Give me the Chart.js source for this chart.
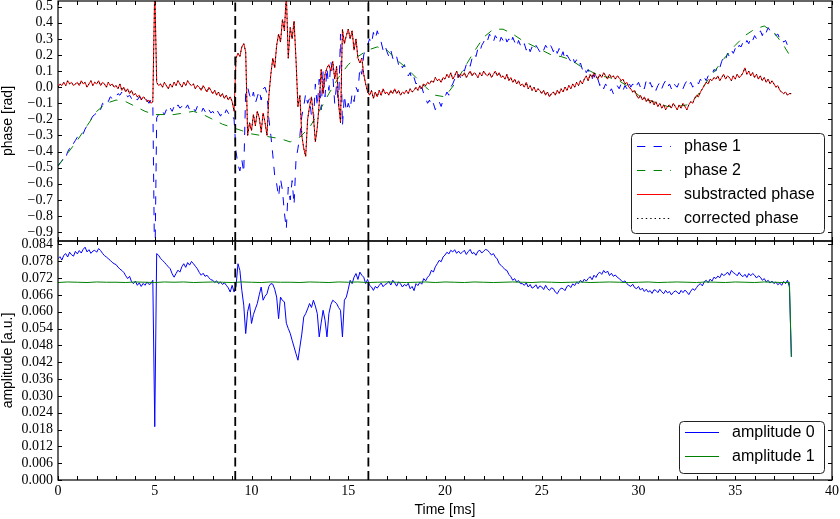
<!DOCTYPE html>
<html lang="en">
<head>
<meta charset="UTF-8">
<title>phase / amplitude</title>
<script src="https://cdn.jsdelivr.net/npm/chart.js@4"></script>
<style>
  body { margin: 0; background: #fff; }
  #wrap { position: relative; width: 840px; height: 519px; }
  #wrap canvas { position: absolute; left: 0; top: 0; }
</style>
</head>
<body>
<div id="wrap">
  <canvas id="ampChart" width="840" height="519"></canvas>
  <canvas id="phaseChart" width="840" height="242"></canvas>
</div>
<script>
// sampling of the fast traces is 0.1 ms, slow traces 0.5 ms
const fastStep = 0.1;

const phase1 = [
  -0.49,-0.47,-0.46,-0.43,-0.44,-0.40,-0.38,-0.39,-0.35,-0.33,
  -0.31,-0.30,-0.28,-0.29,-0.26,-0.24,-0.23,-0.20,-0.18,-0.17,
  -0.16,-0.13,-0.14,-0.10,-0.11,-0.08,-0.09,-0.06,-0.07,-0.05,
  -0.06,-0.04,-0.05,-0.03,-0.05,-0.04,-0.06,-0.05,-0.07,-0.05,
  -0.06,-0.08,-0.06,-0.07,-0.09,-0.07,-0.08,-0.10,-0.08,-0.09,
  -1.20,-0.19,-0.17,-0.18,-0.15,-0.17,-0.14,-0.16,-0.13,-0.15,
  -0.12,-0.14,-0.11,-0.13,-0.12,-0.10,-0.13,-0.11,-0.14,-0.12,
  -0.13,-0.15,-0.12,-0.14,-0.16,-0.13,-0.15,-0.17,-0.14,-0.16,
  -0.15,-0.17,-0.14,-0.16,-0.18,-0.15,-0.17,-0.14,-0.16,-0.18,
  -0.17,-0.20,-0.40,-0.48,-0.52,-0.45,-0.53,-0.02,0.00,-0.05,
  -0.08,-0.03,-0.10,-0.06,-0.02,-0.08,-0.01,0.00,-0.04,-0.20,
  -0.30,-0.42,-0.55,-0.60,-0.68,-0.57,-0.64,-0.78,-0.88,-0.62,
  -0.70,-0.58,-0.73,-0.45,-0.38,-0.30,-0.18,-0.12,-0.04,-0.10,
  -0.07,-0.18,-0.22,0.02,-0.12,0.05,-0.14,0.10,-0.06,0.12,
  -0.02,0.16,0.08,-0.10,0.02,-0.12,0.33,-0.24,-0.05,-0.15,
  -0.10,-0.14,-0.04,-0.09,0.00,-0.03,0.12,0.08,0.20,0.24,
  0.26,0.30,0.27,0.34,0.30,0.35,0.31,0.28,0.23,0.26,
  0.22,0.19,0.23,0.18,0.16,0.19,0.14,0.16,0.12,0.14,
  0.10,0.07,0.09,0.04,0.06,0.02,0.03,-0.01,0.00,-0.04,
  -0.07,-0.10,-0.08,-0.12,-0.10,-0.14,-0.11,-0.09,-0.12,-0.08,
  -0.06,-0.03,-0.05,0.00,0.02,0.05,0.03,0.08,0.06,0.11,
  0.10,0.14,0.16,0.13,0.18,0.21,0.19,0.24,0.22,0.26,
  0.28,0.31,0.29,0.33,0.30,0.28,0.32,0.30,0.27,0.31,
  0.29,0.32,0.28,0.30,0.27,0.31,0.28,0.25,0.29,0.26,
  0.24,0.27,0.23,0.26,0.22,0.25,0.23,0.26,0.24,0.22,
  0.25,0.23,0.26,0.24,0.27,0.25,0.22,0.25,0.21,0.24,
  0.19,0.22,0.17,0.20,0.18,0.16,0.19,0.15,0.17,0.13,
  0.15,0.11,0.13,0.09,0.11,0.07,0.05,0.08,0.03,0.05,
  0.01,0.03,-0.01,0.02,0.00,-0.03,-0.01,-0.04,-0.02,0.01,
  -0.01,0.02,-0.02,0.01,-0.01,0.03,0.00,0.02,-0.01,0.01,
  0.03,0.00,0.02,-0.01,0.04,0.01,0.03,0.00,0.02,-0.02,
  0.01,0.03,-0.01,0.02,0.04,0.00,0.02,-0.01,0.03,0.01,
  0.00,0.03,0.01,-0.01,0.02,0.04,0.01,0.03,0.00,0.02,
  0.04,0.02,0.05,0.03,0.06,0.04,0.07,0.09,0.08,0.11,
  0.10,0.14,0.12,0.16,0.19,0.17,0.21,0.19,0.23,0.21,
  0.24,0.22,0.26,0.25,0.28,0.26,0.29,0.27,0.31,0.29,
  0.32,0.30,0.33,0.35,0.32,0.36,0.34,0.37,0.35,0.33,
  0.34,0.32,0.33,0.30,0.31,0.28,0.29,0.26,0.25,0.24
];

const phase2 = [
  -0.49,-0.41,-0.33,-0.24,-0.15,-0.10,-0.08,-0.09,-0.12,-0.15,
  -0.17,-0.17,-0.17,-0.16,-0.15,-0.17,-0.20,-0.23,-0.25,-0.27,
  -0.29,-0.30,-0.31,-0.32,-0.34,-0.31,-0.25,-0.15,-0.04,0.06,
  0.14,0.19,0.23,0.25,0.23,0.17,0.12,0.06,0.00,-0.05,
  -0.06,0.02,0.12,0.22,0.31,0.36,0.36,0.33,0.29,0.26,
  0.23,0.20,0.19,0.17,0.13,0.10,0.07,0.06,0.04,0.00,
  -0.05,-0.08,-0.10,-0.12,-0.12,-0.11,-0.06,0.03,0.11,0.19,
  0.26,0.32,0.36,0.38,0.34,0.26,
  0.20,0.17
];

const substractedPhase = [
  0.00,0.02,0.01,0.03,0.01,0.04,0.02,0.03,0.01,0.02,
  0.03,0.01,0.04,0.02,0.03,0.00,0.02,0.04,0.01,0.03,
  0.02,0.04,0.01,0.03,0.02,0.00,0.03,0.01,0.02,0.00,
  0.01,-0.01,0.02,-0.02,0.00,-0.03,-0.01,-0.04,-0.02,-0.05,
  -0.04,-0.06,-0.05,-0.08,-0.06,-0.07,-0.09,-0.08,-0.10,-0.09,
  0.62,0.03,0.01,0.02,0.00,0.03,0.01,-0.01,0.02,0.00,
  0.03,0.01,0.04,0.02,0.00,0.03,0.01,0.04,0.02,0.01,
  0.02,-0.01,0.01,0.00,-0.02,0.01,-0.01,-0.03,0.00,-0.02,
  -0.04,-0.02,-0.05,-0.03,-0.06,-0.04,-0.07,-0.05,-0.08,-0.06,
  -0.09,-0.15,0.18,0.21,0.19,0.25,0.27,0.22,-0.30,-0.22,
  -0.27,-0.17,-0.24,-0.15,-0.19,-0.28,-0.16,-0.22,-0.30,-0.05,
  0.08,0.18,0.12,0.26,0.33,0.28,0.42,0.35,0.58,0.18,
  0.37,0.30,0.41,0.17,-0.12,-0.05,-0.30,-0.38,-0.43,-0.20,
  -0.12,-0.06,-0.18,-0.34,-0.25,-0.10,0.11,-0.04,0.08,0.12,
  0.14,0.10,0.16,0.05,0.13,-0.10,-0.22,0.36,0.27,0.32,
  0.36,0.30,0.35,0.23,0.30,0.18,0.15,0.18,0.08,0.02,
  -0.03,-0.05,-0.02,-0.07,-0.03,-0.06,-0.02,-0.05,-0.01,-0.04,
  -0.03,-0.05,-0.02,-0.04,-0.01,-0.04,-0.02,-0.05,-0.03,-0.04,
  -0.02,-0.04,-0.01,-0.03,-0.02,0.00,-0.02,0.01,-0.01,0.02,
  0.01,0.03,0.02,0.04,0.03,0.06,0.04,0.05,0.03,0.06,
  0.05,0.08,0.06,0.09,0.05,0.07,0.10,0.06,0.08,0.07,
  0.09,0.06,0.08,0.10,0.07,0.09,0.08,0.06,0.09,0.07,
  0.10,0.08,0.07,0.09,0.06,0.08,0.10,0.07,0.09,0.06,
  0.07,0.05,0.08,0.04,0.06,0.03,0.05,0.02,0.04,0.01,
  0.02,0.00,0.03,-0.01,0.01,-0.02,0.00,-0.03,-0.01,-0.02,
  -0.04,-0.02,-0.05,-0.03,-0.06,-0.04,-0.03,-0.05,-0.02,-0.04,
  -0.01,-0.03,0.00,-0.02,0.01,-0.01,0.02,0.00,0.03,0.01,
  0.04,0.02,0.05,0.07,0.04,0.08,0.06,0.09,0.07,0.05,
  0.08,0.06,0.09,0.07,0.05,0.08,0.06,0.07,0.05,0.07,
  0.06,0.04,0.05,0.02,0.03,0.00,-0.01,-0.03,-0.02,-0.05,
  -0.07,-0.05,-0.08,-0.06,-0.09,-0.07,-0.10,-0.08,-0.11,-0.09,
  -0.12,-0.10,-0.13,-0.11,-0.14,-0.12,-0.11,-0.13,-0.10,-0.12,
  -0.14,-0.11,-0.13,-0.10,-0.12,-0.14,-0.11,-0.09,-0.10,-0.07,
  -0.05,-0.06,-0.03,-0.01,0.01,0.03,0.02,0.05,0.04,0.06,
  0.05,0.07,0.04,0.06,0.08,0.05,0.07,0.06,0.04,0.07,
  0.05,0.08,0.06,0.07,0.09,0.12,0.08,0.10,0.07,0.09,
  0.06,0.08,0.05,0.07,0.04,0.06,0.03,0.05,0.02,0.04,
  0.02,0.00,0.01,-0.02,-0.03,-0.04,-0.03,-0.05,-0.04,-0.04
];

// corrected phase sits right on top of the substracted one
const correctedPhase = substractedPhase.slice();

const amplitude0 = [
  .0789,.0796,.0784,.0801,.0807,.0795,.0812,.0803,.0798,.0815,
  .0806,.0818,.0809,.0822,.0830,.0813,.0821,.0808,.0816,.0819,
  .0812,.0825,.0818,.0808,.0800,.0795,.0789,.0783,.0776,.0771,
  .0768,.0759,.0752,.0747,.0740,.0728,.0718,.0726,.0707,.0700,
  .0709,.0694,.0703,.0690,.0701,.0694,.0706,.0697,.0700,.0712,
  .0190,.0807,.0801,.0790,.0783,.0776,.0768,.0760,.0753,.0735,
  .0723,.0736,.0748,.0741,.0760,.0771,.0758,.0775,.0766,.0779,
  .0771,.0762,.0753,.0740,.0730,.0737,.0726,.0730,.0721,.0714,
  .0712,.0704,.0710,.0700,.0706,.0697,.0703,.0694,.0685,.0670,
  .0694,.0670,.0690,.0771,.0747,.0676,.0623,.0522,.0600,.0629,
  .0558,.0590,.0610,.0629,.0660,.0688,.0641,.0655,.0664,.0690,
  .0700,.0698,.0680,.0652,.0575,.0652,.0640,.0635,.0559,.0540,
  .0523,.0498,.0474,.0450,.0427,.0474,.0520,.0581,.0593,.0610,
  .0629,.0615,.0641,.0620,.0593,.0510,.0560,.0605,.0570,.0510,
  .0593,.0625,.0641,.0635,.0629,.0615,.0605,.0510,.0641,.0652,
  .0680,.0712,.0700,.0723,.0736,.0715,.0741,.0730,.0723,.0700,
  .0715,.0694,.0688,.0676,.0690,.0684,.0694,.0702,.0689,.0697,
  .0700,.0708,.0695,.0712,.0703,.0691,.0706,.0700,.0688,.0697,
  .0692,.0701,.0682,.0690,.0675,.0700,.0693,.0705,.0698,.0718,
  .0710,.0723,.0730,.0748,.0741,.0760,.0771,.0783,.0778,.0795,
  .0802,.0812,.0806,.0819,.0813,.0821,.0808,.0816,.0807,.0812,
  .0819,.0804,.0814,.0822,.0807,.0811,.0801,.0815,.0819,.0809,
  .0816,.0822,.0819,.0811,.0802,.0807,.0795,.0788,.0771,.0765,
  .0758,.0750,.0747,.0733,.0725,.0712,.0718,.0706,.0711,.0700,
  .0700,.0694,.0703,.0688,.0697,.0684,.0688,.0696,.0682,.0692,
  .0688,.0679,.0694,.0682,.0676,.0685,.0682,.0670,.0664,.0676,
  .0684,.0682,.0675,.0690,.0694,.0686,.0699,.0693,.0705,.0700,
  .0712,.0704,.0716,.0709,.0718,.0725,.0714,.0730,.0722,.0735,
  .0741,.0733,.0747,.0738,.0745,.0729,.0737,.0726,.0731,.0723,
  .0718,.0712,.0705,.0710,.0700,.0694,.0690,.0698,.0686,.0682,
  .0690,.0677,.0684,.0672,.0680,.0670,.0675,.0665,.0678,.0676,
  .0668,.0680,.0671,.0664,.0676,.0667,.0672,.0660,.0669,.0674,
  .0670,.0663,.0676,.0668,.0677,.0670,.0661,.0673,.0682,.0676,
  .0686,.0695,.0700,.0692,.0707,.0712,.0703,.0716,.0709,.0723,
  .0718,.0727,.0721,.0736,.0729,.0733,.0741,.0730,.0747,.0739,
  .0735,.0728,.0740,.0730,.0725,.0733,.0722,.0736,.0728,.0736,
  .0730,.0720,.0728,.0723,.0712,.0718,.0706,.0712,.0702,.0709,
  .0700,.0706,.0696,.0702,.0694,.0708,.0700,.0712,.0688,.0439
];

const amplitude1 = [
  .0704,.0706,.0705,.0704,.0706,.0705,.0705,.0704,.0706,.0705,
  .0704,.0706,.0705,.0706,.0704,.0705,.0706,.0705,.0704,.0706,
  .0705,.0704,.0706,.0705,.0705,.0704,.0706,.0705,.0704,.0706,
  .0705,.0706,.0704,.0705,.0706,.0705,.0704,.0705,.0706,.0704,
  .0706,.0705,.0704,.0706,.0705,.0704,.0705,.0706,.0705,.0704,
  .0706,.0705,.0704,.0705,.0706,.0704,.0705,.0706,.0705,.0704,
  .0705,.0706,.0704,.0705,.0706,.0705,.0704,.0706,.0705,.0704,
  .0706,.0705,.0704,.0706,.0705,.0704,
  .0705,.0439
];

const markerTimes = [9.16, 16.04];
const timeTicks = [0, 5, 10, 15, 20, 25, 30, 35, 40];
const phaseTicks = [-0.9,-0.8,-0.7,-0.6,-0.5,-0.4,-0.3,-0.2,-0.1,0.0,0.1,0.2,0.3,0.4,0.5];
const ampTicks = [0,0.006,0.012,0.018,0.024,0.030,0.036,0.042,0.048,0.054,0.060,0.066,0.072,0.078,0.084];

const phaseRange = [-0.955, 0.535];
const ampRange = [0, 0.0852];

const fastTimes = phase1.map((_, i) => Math.round(i * fastStep * 10) / 10);
const slowTimes = Array.from({length: 76}, (_, i) => i * 0.5).concat([37.8, 37.9]);

const pts = (ts, vs) => vs.map((v, i) => ({x: ts[i], y: v}));
const fmt = d => v => (v < 0 ? '\u2212' : '') + Math.abs(v).toFixed(d);

const serif = "'Liberation Serif', 'DejaVu Serif', serif";
const sans = "'Liberation Sans', Arial, sans-serif";

// line looks, shared by the traces and their legend handles
const looks = {
  phase1:    {color: '#0000ff', dash: [8.3, 8.3]},
  phase2:    {color: '#008000', dash: [8.3, 8.3]},
  sub:       {color: '#ff0000', dash: []},
  corrected: {color: '#000000', dash: [1.4, 3]},
  amp0:      {color: '#0000ff', dash: []},
  amp1:      {color: '#008000', dash: []}
};

// frame + inward ticks on all four sides, like the matplotlib classic look
const framePlugin = {
  id: 'frame',
  afterDatasetsDraw(chart) {
    const {ctx, chartArea: a, scales} = chart;
    ctx.save();
    ctx.strokeStyle = '#000';
    ctx.lineWidth = 1;
    ctx.setLineDash([]);
    ctx.beginPath();
    for (let t = 0; t <= 40; t++) {
      const x = Math.round(scales.x.getPixelForValue(t)) + 0.5;
      ctx.moveTo(x, a.top); ctx.lineTo(x, a.top + 4);
      ctx.moveTo(x, a.bottom); ctx.lineTo(x, a.bottom - 4);
    }
    scales.y.ticks.forEach(tk => {
      const y = Math.round(scales.y.getPixelForValue(tk.value)) + 0.5;
      ctx.moveTo(a.left, y); ctx.lineTo(a.left + 4, y);
      ctx.moveTo(a.right, y); ctx.lineTo(a.right - 4, y);
    });
    ctx.stroke();
    ctx.lineWidth = 1.2;
    ctx.strokeRect(a.left, a.top, a.right - a.left, a.bottom - a.top);
    ctx.restore();
  }
};

// legend box in the lower right corner of the plot area
function boxLegend(entries, gap, firstRow) {
  return {
    id: 'boxLegend',
    afterDraw(chart) {
      const {ctx, chartArea: a} = chart;
      ctx.save();
      ctx.font = '16px ' + sans;
      const textW = Math.max(...entries.map(e => ctx.measureText(e[0]).width));
      const rowH = 24;
      const w = Math.round(6 + 34 + 13 + textW + 9);
      const h = 28 + rowH * (entries.length - 1);
      const x0 = Math.round(a.right - 8 - w);
      const y0 = Math.round(a.bottom - gap - h);
      ctx.beginPath();
      ctx.roundRect(x0 + 0.5, y0 + 0.5, w, h, 4);
      ctx.fillStyle = '#fff';
      ctx.fill();
      ctx.strokeStyle = '#222';
      ctx.lineWidth = 1;
      ctx.stroke();
      entries.forEach(([label, look], i) => {
        const y = y0 + firstRow + i * rowH;
        ctx.save();
        ctx.strokeStyle = look.color;
        ctx.lineWidth = 1.1;
        ctx.setLineDash(look.dash);
        ctx.beginPath();
        ctx.moveTo(x0 + 6, y + 0.5);
        ctx.lineTo(x0 + 40, y + 0.5);
        ctx.stroke();
        ctx.restore();
        ctx.fillStyle = '#000';
        ctx.textBaseline = 'middle';
        ctx.fillText(label, x0 + 53, y + 1);
      });
      ctx.restore();
    }
  };
}

function markerSets(range) {
  return markerTimes.map(t => ({
    data: [{x: t, y: range[0]}, {x: t, y: range[1]}],
    borderColor: '#000', borderWidth: 1.8, borderDash: [9, 4.5],
    pointRadius: 0, order: 0
  }));
}

function line(label, data, look, order) {
  return {
    label, data, order, borderColor: look.color, borderDash: look.dash, borderWidth: 1,
    pointRadius: 0, tension: 0, fill: false
  };
}

function yScale(range, ticks, digits, title) {
  return {
    min: range[0], max: range[1], bounds: 'data',
    afterBuildTicks: s => { s.ticks = ticks.map(v => ({value: v})); },
    afterFit: s => { s.width = 58; s.paddingTop = 0; s.paddingBottom = 0; },
    grid: {display: false, drawTicks: false},
    border: {display: false},
    ticks: {padding: 5, autoSkip: false, color: '#000', font: {family: serif, size: 14}, callback: fmt(digits)},
    title: {display: true, text: title, color: '#000', padding: 0,
            font: {family: sans, size: 14, lineHeight: 1.2}}
  };
}

function xScale(show) {
  return {
    type: 'linear', min: 0, max: 40, bounds: 'data', display: show,
    afterBuildTicks: s => { s.ticks = timeTicks.map(v => ({value: v})); },
    afterFit: s => { s.height = show ? 39 : 0; s.paddingLeft = 0; s.paddingRight = 0; },
    grid: {display: false, drawTicks: false},
    border: {display: false},
    ticks: {padding: 3, autoSkip: false, color: '#000', maxRotation: 0, font: {family: serif, size: 14}},
    title: {display: true, text: 'Time [ms]', color: '#000', padding: 0,
            font: {family: sans, size: 14, lineHeight: 1.2}}
  };
}

const common = {
  responsive: false,
  animation: false,
  events: [],
  parsing: false,
  normalized: true,
  plugins: {legend: {display: false}, tooltip: {enabled: false}, colors: {enabled: false}}
};

// bottom panel (full-size canvas underneath): plot area y 241..480
new Chart(document.getElementById('ampChart'), {
  type: 'line',
  data: {
    datasets: [
      line('amplitude 0', pts(fastTimes, amplitude0), looks.amp0, 2),
      line('amplitude 1', pts(slowTimes, amplitude1), looks.amp1, 1),
      ...markerSets(ampRange)
    ]
  },
  options: Object.assign({}, common, {
    layout: {padding: {top: 241, right: 8, bottom: 0, left: 0}},
    scales: {x: xScale(true), y: yScale(ampRange, ampTicks, 3, 'amplitude [a.u.]')}
  }),
  plugins: [framePlugin, boxLegend([
    ['amplitude 0', looks.amp0],
    ['amplitude 1', looks.amp1]
  ], 7, 11)]
});

// top panel (canvas on top, 242 px high): plot area y 1..241
new Chart(document.getElementById('phaseChart'), {
  type: 'line',
  data: {
    datasets: [
      line('phase 1', pts(fastTimes, phase1), looks.phase1, 4),
      line('phase 2', pts(slowTimes, phase2), looks.phase2, 3),
      line('substracted phase', pts(fastTimes, substractedPhase), looks.sub, 2),
      line('corrected phase', pts(fastTimes, correctedPhase), looks.corrected, 1),
      ...markerSets(phaseRange)
    ]
  },
  options: Object.assign({}, common, {
    layout: {padding: {top: 1, right: 8, bottom: 1, left: 0}},
    scales: {x: xScale(false), y: yScale(phaseRange, phaseTicks, 1, 'phase [rad]')}
  }),
  plugins: [framePlugin, boxLegend([
    ['phase 1', looks.phase1],
    ['phase 2', looks.phase2],
    ['substracted phase', looks.sub],
    ['corrected phase', looks.corrected]
  ], 8, 13)]
});
</script>
</body>
</html>
